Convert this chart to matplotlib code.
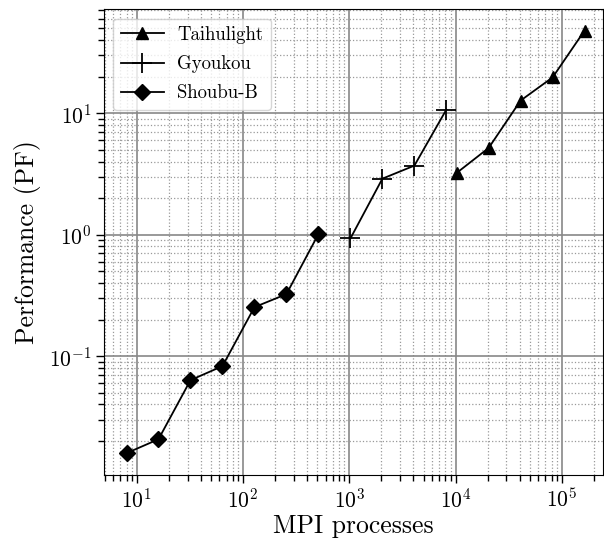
import matplotlib
matplotlib.use("Agg")
import matplotlib.pyplot as plt

plt.rcParams["font.family"] = "serif"
plt.rcParams["font.serif"] = ["cmr10"]
plt.rcParams["mathtext.fontset"] = "cm"
plt.rcParams["axes.formatter.use_mathtext"] = True

# data
taihu_x = [10240, 20480, 40960, 81920, 163840]
taihu_y = [3.22, 5.17, 12.7, 19.7, 47.9]
gyou_x = [1024, 2048, 4096, 8192]
gyou_y = [0.93, 2.89, 3.7, 10.7]
shoubu_x = [8, 16, 32, 64, 128, 256, 512]
shoubu_y = [0.0159, 0.0207, 0.0634, 0.0828, 0.253, 0.324, 1.01]

fig = plt.figure(figsize=(6.04, 5.38), dpi=100)
ax = fig.add_axes([0.172, 0.117, 0.826, 0.866])

ax.plot(taihu_x, taihu_y, color="k", lw=1.3, marker="^", ms=9, label="Taihulight")
ax.plot(gyou_x, gyou_y, color="k", lw=1.3, marker="+", ms=14, mew=1.3, label="Gyoukou")
ax.plot(shoubu_x, shoubu_y, color="k", lw=1.3, marker="D", ms=8, label="Shoubu-B")

ax.set_xscale("log"); ax.set_yscale("log")
ax.set_xlim(4.9, 2.43e5)
ax.set_ylim(0.0105, 71.8)
ax.grid(which="major", color="#888888", lw=1.2, ls="-")
ax.grid(which="minor", color="#999999", lw=0.9, ls=":")
ax.set_axisbelow(True)
ax.tick_params(labelsize=15.5, pad=3)
ax.tick_params(which="major", length=6, width=1)
ax.tick_params(which="minor", length=4, width=1)
ax.set_xlabel("MPI processes", fontsize=18.5, labelpad=2)
ax.set_ylabel("Performance (PF)", fontsize=18.5, labelpad=6)
ax.legend(loc="upper left", fontsize=13.5, handlelength=2.3, handletextpad=0.7,
          labelspacing=0.6)

fig.savefig("out.png", dpi=100)
